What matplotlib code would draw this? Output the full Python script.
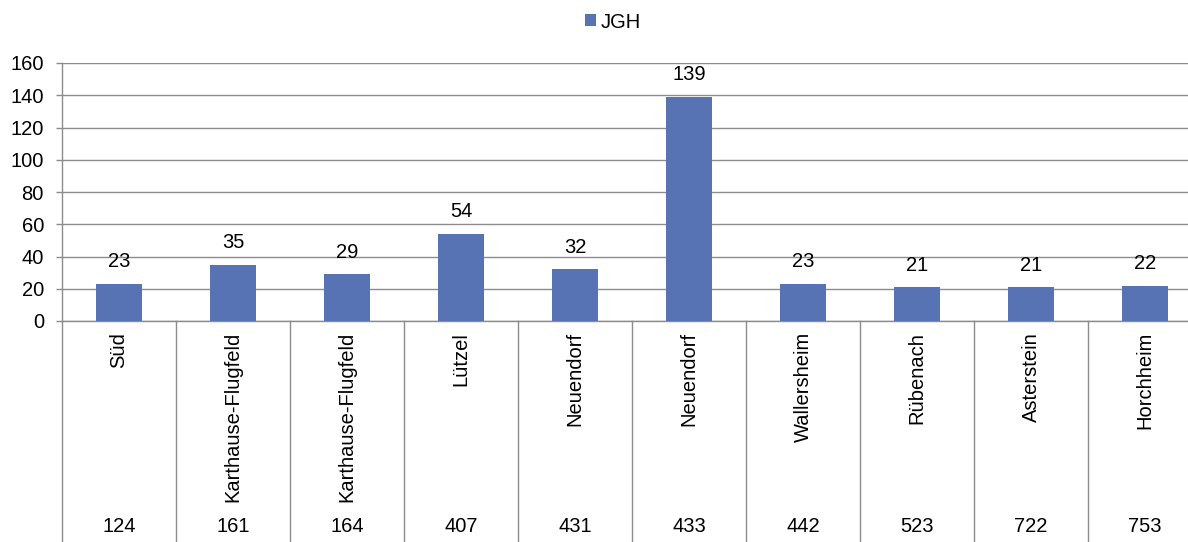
import matplotlib
matplotlib.use("Agg")
import matplotlib.pyplot as plt
import matplotlib.transforms as mtransforms

plt.rcParams['font.family'] = ['Liberation Sans', 'DejaVu Sans']

# Daten
stadtteile = ["Süd", "Karthause-Flugfeld", "Karthause-Flugfeld", "Lützel", "Neuendorf",
              "Neuendorf", "Wallersheim", "Rübenach", "Asterstein", "Horchheim"]
nummern = ["124", "161", "164", "407", "431", "433", "442", "523", "722", "753"]
jgh = [23, 35, 29, 54, 32, 139, 23, 21, 21, 22]
yticks = [0, 20, 40, 60, 80, 100, 120, 140, 160]

bar_color = '#5873b3'
grid_color = '#8c8c8c'
fs = 14.5

W, H = 1188, 542
fig = plt.figure(figsize=(W / 100, H / 100), dpi=100)
# plot area runs past the right edge (chart was cropped)
ax = fig.add_axes([62 / W, (H - 321) / H, 1140 / W, 258 / H])

x = list(range(len(jgh)))
bars = ax.bar(x, jgh, width=0.4, color=bar_color, label="JGH", zorder=3)

for xi, v in zip(x, jgh):
    ax.annotate(str(v), (xi, v), xytext=(0, 9), textcoords='offset points',
                ha='center', va='bottom', fontsize=fs)

ax.set_xlim(-0.5, len(jgh) - 0.5)
ax.set_ylim(0, 160)
ax.set_yticks(yticks)
ax.set_xticks([])
ax.yaxis.grid(True, color=grid_color, linewidth=1.0, zorder=0)
ax.tick_params(axis='y', length=4, width=1, color=grid_color, labelsize=fs, pad=9)
for s in ['top', 'right']:
    ax.spines[s].set_visible(False)
for s in ['left', 'bottom']:
    ax.spines[s].set_color(grid_color)
    ax.spines[s].set_linewidth(1.0)

# mehrstufige Kategorienachse
trans = mtransforms.blended_transform_factory(ax.transData, ax.transAxes)
y_bottom = -221 / 258
for i in range(len(jgh) + 1):
    ax.plot([i - 0.5, i - 0.5], [0, y_bottom - 0.05], transform=trans,
            color=grid_color, linewidth=1.0, clip_on=False)
for xi, name, nr in zip(x, stadtteile, nummern):
    ax.text(xi, -11 / 258, name, transform=trans, rotation=90,
            ha='center', va='top', fontsize=fs)
    ax.text(xi, -206 / 258, nr, transform=trans, ha='center', va='center', fontsize=fs)

fig.legend(handles=[bars], labels=["JGH"], loc='center', bbox_to_anchor=(613 / W, 1 - 22 / H),
           frameon=False, fontsize=fs, handlelength=0.55, handleheight=0.55,
           handletextpad=0.2, borderaxespad=0)

fig.savefig("out.png", dpi=100)
